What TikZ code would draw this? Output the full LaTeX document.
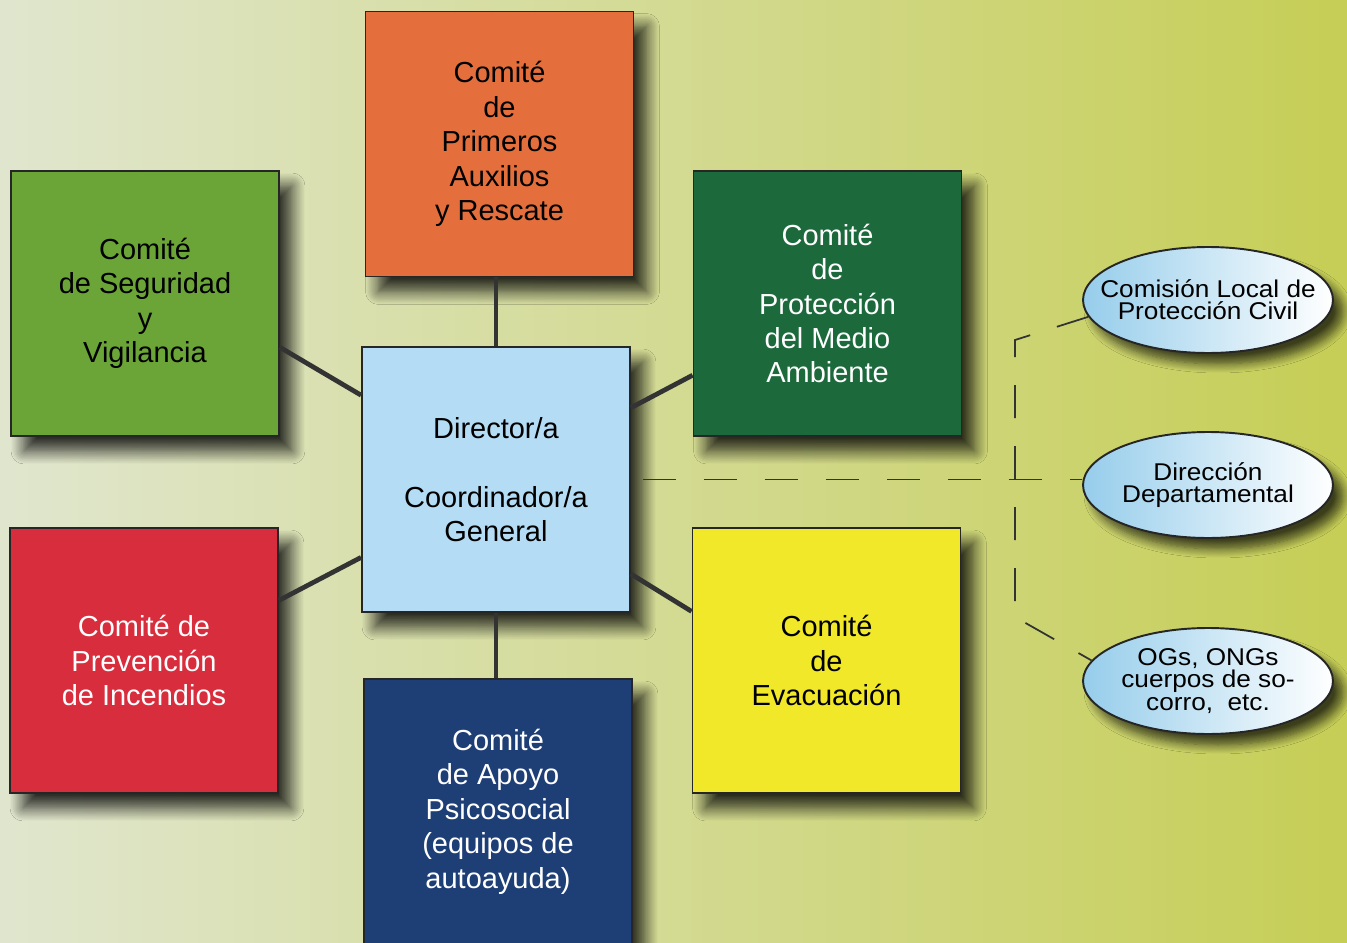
\documentclass[tikz,border=0pt]{standalone}
\usepackage{fontspec}
\setsansfont{Liberation Sans}
\newfontfamily\fuenteelipse[FakeStretch=1.08]{Liberation Sans}
\usetikzlibrary{shapes.geometric, shadows.blur, positioning}

\definecolor{naranja}{HTML}{E56F3C}
\definecolor{verdeclaro}{HTML}{6CA537}
\definecolor{verdeoscuro}{HTML}{1C693C}
\definecolor{celeste}{HTML}{B4DCF5}
\definecolor{rojo}{HTML}{D82D3C}
\definecolor{amarillo}{HTML}{F0E828}
\definecolor{azul}{HTML}{1E3E76}
\definecolor{elipse}{HTML}{96CDEB}
\definecolor{fondoA}{HTML}{E0E6CE}
\definecolor{fondoB}{HTML}{D8DE94}
\definecolor{fondoC}{HTML}{C6CE56}

\newcommand{\letraelipse}{\fuenteelipse\fontsize{13.8}{12.6}\selectfont\lineskiplimit=-6pt\relax}

\tikzset{
  comite/.style={draw=black!85, line width=1.1pt, minimum width=5.36cm, minimum height=5.3cm,
    align=center, font={\sffamily\fontsize{16.5}{19.6}\selectfont},
    blur shadow={shadow xshift=0.26cm, shadow yshift=-0.3cm, shadow blur radius=0.26cm,
      shadow blur steps=12, shadow opacity=80}},
  externo/.style={ellipse, draw=black!85, line width=1.1pt, left color=elipse, right color=white,
    minimum width=5cm, minimum height=2.12cm, inner xsep=-0.45cm, inner ysep=0pt, align=center,
    font=\letraelipse,
    blur shadow={shadow xshift=0.2cm, shadow yshift=-0.22cm, shadow blur radius=0.18cm,
      shadow blur steps=10, shadow opacity=70}},
  enlace/.style={line width=2.7pt, draw=black!80},
  discontinua/.style={line width=1pt, draw=black!80, dash pattern=on 0.66cm off 0.56cm},
}

\begin{document}
\begin{tikzpicture}[x=0.02cm, y=-0.02cm]
  % background
  \useasboundingbox (0,0) rectangle (1347,943);
  \shade[left color=fondoA, middle color=fondoB, right color=fondoC] (0,0) rectangle (1347,943);

  % committees
  \node[comite, fill=naranja] (auxilios) at (499.5,144) {Comité\\de\\Primeros\\Auxilios\\y Rescate};
  \node[comite, fill=verdeclaro] (seguridad) at (145,303.5) {Comité\\de Seguridad\\y\\Vigilancia};
  \node[comite, fill=verdeoscuro, text=white] (ambiente) at (827.5,303.5) {Comité\\de\\Protección\\del Medio\\Ambiente};
  \node[comite, fill=rojo, text=white] (incendios) at (144,660.5) {Comité de\\Prevención\\de Incendios};
  \node[comite, fill=amarillo] (evacuacion) at (826.5,660.5) {Comité\\de\\Evacuación};
  \node[comite, fill=azul, text=white] (psicosocial) at (498,811.5) {Comité\\de Apoyo\\Psicosocial\\(equipos de\\autoayuda)};
  \node[comite, fill=celeste] (director) at (496,479.5) {Director/a\\[19.6pt]Coordinador/a\\General};

  % outside bodies
  \node[externo] (comision) at (1208,300) {Comisión Local de\\Protección Civil};
  \node[externo] (direccion) at (1208,485) {Dirección\\Departamental};
  \node[externo] (ogs) at (1208,681) {OGs, ONGs\\cuerpos de so-\\corro,\ \ etc.};

  % solid links
  \draw[enlace] (director.north) -- (director.north |- auxilios.south);
  \draw[enlace] (director.south) -- (director.south |- psicosocial.north);
  \draw[enlace] (seguridad.-18) -- (director.148);
  \draw[enlace] (incendios.24) -- (director.210);
  \draw[enlace] (ambiente.208) -- (director.28);
  \draw[enlace] (evacuacion.160) -- (director.-35);

  % dashed links
  \coordinate (llave-a) at (1015,340);
  \coordinate (llave-b) at (1015,617);
  \draw[discontinua] ([xshift=0.24cm]director.east) -- (director.east -| direccion.west);
  \draw[discontinua] (comision.188) -- (llave-a) -- (llave-b) -- (ogs.170);
\end{tikzpicture}
\end{document}
